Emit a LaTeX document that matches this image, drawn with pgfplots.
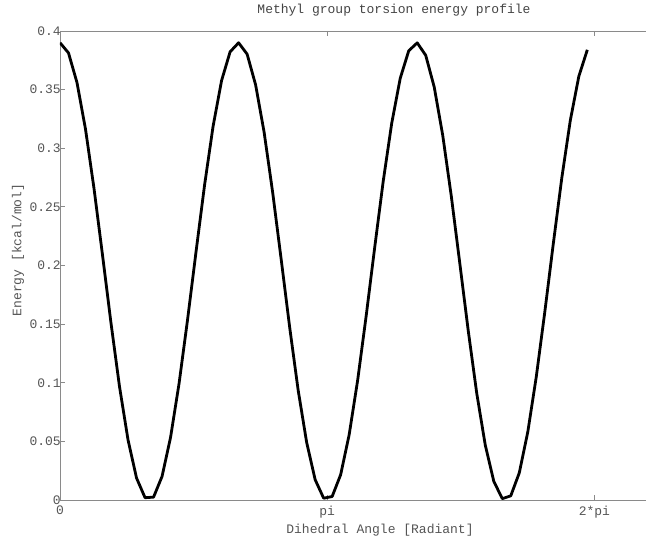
\documentclass[border=0pt]{standalone}
\usepackage{fontspec}
\setmainfont{Liberation Mono}
\usepackage{pgfplots}
\pgfplotsset{compat=1.18}
\definecolor{axgray}{HTML}{8A8A8A}
\definecolor{txtgray}{HTML}{555555}
\definecolor{ttlgray}{HTML}{444444}
\pgfplotstableread{
x y
0.0 0.39000
0.1 0.38129
0.2 0.35594
0.3 0.31621
0.4 0.26566
0.5 0.20879
0.6 0.15070
0.7 0.09655
0.8 0.05121
0.9 0.01871
1.0 0.00195
1.1 0.00244
1.2 0.02013
1.3 0.05344
1.4 0.09940
1.5 0.15389
1.6 0.21206
1.7 0.26870
1.8 0.31876
1.9 0.35777
2.0 0.38223
2.1 0.38997
2.2 0.38029
2.3 0.35407
2.4 0.31363
2.5 0.26259
2.6 0.20552
2.7 0.14751
2.8 0.09374
2.9 0.04913
3.0 0.01733
3.1 0.00152
3.2 0.00299
3.3 0.02161
3.4 0.05572
3.5 0.10227
3.6 0.15711
3.7 0.21532
3.8 0.27173
3.9 0.32124
4.0 0.35955
4.1 0.38312
4.2 0.38989
4.3 0.37925
4.4 0.35216
4.5 0.31101
4.6 0.25951
4.7 0.20225
4.8 0.14434
4.9 0.09094
5.0 0.04686
5.1 0.01602
5.2 0.00113
5.3 0.00358
5.4 0.02313
5.5 0.05803
5.6 0.10518
5.7 0.16034
5.8 0.21859
5.9 0.27475
6.0 0.32376
6.1 0.36129
6.2 0.38396
}\energy
\begin{document}
\fontsize{13}{15}\selectfont
\begin{tikzpicture}
\begin{axis}[
  scale only axis,
  width=668pt, height=469pt,
  xmin=0, xmax=7.854, ymin=0, ymax=0.4,
  xtick={0,3.14159,6.28319}, xticklabels={0,pi,2*pi},
  ytick={0,0.05,0.1,0.15,0.2,0.25,0.3,0.35,0.4},
  yticklabels={0,0.05,0.1,0.15,0.2,0.25,0.3,0.35,0.4},
  tick align=inside, major tick length=5pt,
  axis line style={axgray, line width=0.9pt},
  every tick/.style={axgray, line width=0.9pt},
  tick label style={txtgray, font=\fontsize{13}{15}\selectfont},
  every y tick label/.append style={inner sep=0pt, xshift=1pt},
  every x tick label/.append style={inner sep=0pt, yshift=-6pt},
  /pgf/number format/assume math mode=true,
  title={Methyl group torsion energy profile},
  title style={ttlgray, at={(axis description cs:0.5,1.031)}, anchor=center, font=\fontsize{13}{15}\selectfont},
  xlabel={Dihedral Angle [Radiant]},
  xlabel style={txtgray, at={(axis description cs:0.479,-0.064)}, anchor=center, font=\fontsize{13}{15}\selectfont},
  ylabel={Energy [kcal/mol]},
  ylabel style={txtgray, at={(axis description cs:-0.063,0.533)}, anchor=center, font=\fontsize{13}{15}\selectfont},
]
\addplot[black, line width=2.8pt, line join=round] table[x=x,y=y] {\energy};
\coordinate (ll) at (rel axis cs:0,0);
\end{axis}
\pgfresetboundingbox
\useasboundingbox ([shift={(-60pt,-37pt)}]ll) rectangle ([shift={(586pt,500pt)}]ll);
\end{tikzpicture}
\end{document}
